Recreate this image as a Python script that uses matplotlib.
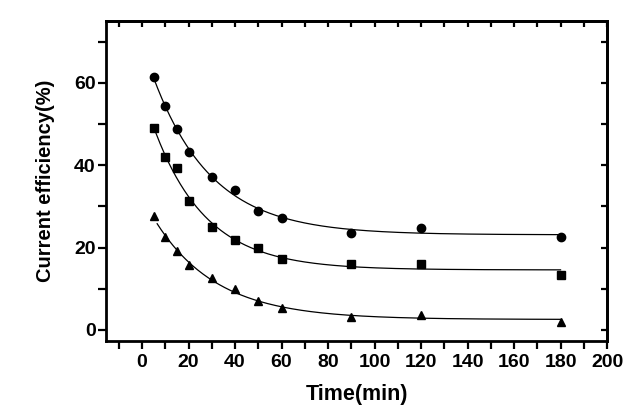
import numpy as np
import matplotlib
matplotlib.use("Agg")
import matplotlib.pyplot as plt
from matplotlib.ticker import MultipleLocator

time_min = [5, 10, 15, 20, 30, 40, 50, 60, 90, 120, 180]
eff_circle = [61.3, 54.3, 48.8, 43.3, 37.1, 33.9, 28.9, 27.2, 23.6, 24.8, 22.5]
eff_square = [48.9, 41.9, 39.2, 31.2, 25.1, 21.8, 19.8, 17.1, 15.9, 15.9, 13.3]
eff_triangle = [27.7, 22.5, 19.1, 15.8, 12.5, 9.9, 7.0, 5.3, 3.2, 3.6, 2.0]
xticks = [0, 20, 40, 60, 80, 100, 120, 140, 160, 180, 200]
yticks = [0, 20, 40, 60]

plt.rcParams['font.family'] = ['Liberation Sans', 'DejaVu Sans']
plt.rcParams['font.weight'] = 'bold'


def exp_fit(x, y):
    x = np.asarray(x, float)
    y = np.asarray(y, float)
    best = None
    for tau in np.linspace(2, 120, 2000):
        A = np.column_stack([np.ones_like(x), np.exp(-x / tau)])
        coef, *_ = np.linalg.lstsq(A, y, rcond=None)
        r = np.sum((A @ coef - y) ** 2)
        if best is None or r < best[0]:
            best = (r, tau, coef)
    _, tau, coef = best
    return lambda t: coef[0] + coef[1] * np.exp(-t / tau)


fig = plt.figure(figsize=(6.39, 4.18), dpi=100)
ax = fig.add_axes([0.1659, 0.1842, 0.7841, 0.7656])

series = [(eff_circle, 'o', 6.0, 5.0), (eff_square, 's', 5.2, 6.0), (eff_triangle, '^', 6.2, 6.5)]
for ys, mk, ms, x0 in series:
    f = exp_fit(time_min, ys)
    xx = np.linspace(x0, 180, 300)
    ax.plot(xx, f(xx), color='black', lw=0.9)
    ax.plot(time_min, ys, linestyle='none', marker=mk, ms=ms, color='black')

ax.set_xlim(-15.5, 200)
ax.set_ylim(-2.7, 75)
ax.set_xticks(xticks)
ax.set_yticks(yticks)
ax.xaxis.set_minor_locator(MultipleLocator(10))
ax.yaxis.set_minor_locator(MultipleLocator(10))
for s in ax.spines.values():
    s.set_linewidth(2.0)
ax.tick_params(axis='both', which='both', direction='out', length=5.5, width=1.6,
               top=False, right=False)
ax.tick_params(axis='x', which='major', pad=4)
ax.tick_params(axis='y', which='major', pad=2)

sx = ax.secondary_xaxis('top')
sx.set_xticks(xticks)
sx.xaxis.set_minor_locator(MultipleLocator(10))
sx.tick_params(which='both', direction='in', length=4, width=1.6, labeltop=False)
sx.spines['top'].set_linewidth(2.0)
sy = ax.secondary_yaxis('right')
sy.set_yticks(yticks)
sy.yaxis.set_minor_locator(MultipleLocator(10))
sy.tick_params(which='both', direction='in', length=4, width=1.6, labelright=False)
sy.spines['right'].set_linewidth(2.0)

for lbl in ax.get_xticklabels() + ax.get_yticklabels():
    lbl.set_fontweight('bold')
    lbl.set_fontsize(14)

ax.set_xlabel('Time(min)', fontsize=15.5, fontweight='bold', labelpad=9)
ax.set_ylabel('Current efficiency(%)', fontsize=14.5, fontweight='bold', labelpad=14)

fig.savefig('out.png', dpi=100)
